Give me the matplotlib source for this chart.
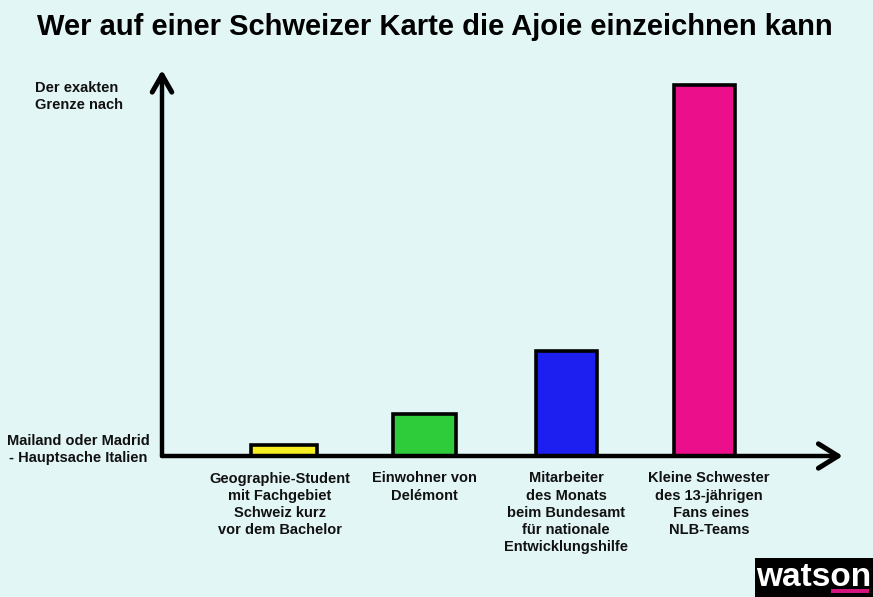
import matplotlib
matplotlib.use('Agg')
import matplotlib.pyplot as plt
from matplotlib.patches import Rectangle

plt.rcParams['font.family'] = 'Liberation Sans'
plt.rcParams['font.weight'] = 'bold'

title = 'Wer auf einer Schweizer Karte die Ajoie einzeichnen kann'
categories = [
    'Geographie-Student\nmit Fachgebiet\nSchweiz kurz\nvor dem Bachelor',
    'Einwohner von\nDelémont',
    'Mitarbeiter\ndes Monats\nbeim Bundesamt\nfür nationale\nEntwicklungshilfe',
    'Kleine Schwester\ndes 13-jährigen\n Fans eines\nNLB-Teams',
]
values = [2.9, 11.0, 27.6, 97.4]
colors = ['#f7ee22', '#2ecc3a', '#1c1ff0', '#ec0f8b']
y_low = 'Mailand oder Madrid\n- Hauptsache Italien'
y_high = 'Der exakten\nGrenze nach'

W, H = 873, 597
bg = '#e3f6f6'

fig = plt.figure(figsize=(W / 100, H / 100), dpi=100, facecolor=bg)
# axes box runs from the origin of the drawn arrows to their tips
ax = fig.add_axes([162 / W, (H - 456) / H, (838 - 162) / W, (456 - 75) / H])
ax.set_facecolor(bg)
ax.set_xlim(-0.87, 3.95)
ax.set_ylim(0, 100)
for s in ax.spines.values():
    s.set_visible(False)
ax.set_yticks([])
ax.set_xticks([])

# the hand drawn bars are not evenly spaced or equally wide
bar_pos = [0, 1, 2.015, 3]
bar_width = [0.465, 0.45, 0.435, 0.435]
ax.bar(bar_pos, values, width=bar_width, color=colors, edgecolor='black', linewidth=2.6, clip_on=False, zorder=2)

# arrows
ax.plot([-0.87, 3.95], [0, 0], color='black', lw=3.2, solid_capstyle='round', clip_on=False, zorder=3)
ax.plot([-0.87, -0.87], [0, 100], color='black', lw=3.2, solid_capstyle='round', clip_on=False, zorder=3)
heads = [
    ((1, 0), (0.971, 0.032)),
    ((1, 0), (0.971, -0.032)),
    ((0, 1), (-0.0145, 0.955)),
    ((0, 1), (0.0145, 0.955)),
]
for tip, back in heads:
    ax.annotate('', xy=tip, xytext=back, xycoords='axes fraction', textcoords='axes fraction',
                arrowprops=dict(arrowstyle='-', color='black', lw=3.6, capstyle='round', shrinkA=0, shrinkB=0))

fig.text(435 / W, 1 - 27 / H, title, ha='center', va='center', fontsize=20.95, color='black')

label_x = [280 / W, 424 / W, 566 / W, 709 / W]
for lx, c in zip(label_x, categories):
    fig.text(lx, 1 - 471.5 / H, c, ha='center', va='top', fontsize=10.5, linespacing=1.29, color='#111111')

fig.text(78.5 / W, 1 - 449.5 / H, y_low, ha='center', va='center', fontsize=10.5, linespacing=1.29, color='#111111')
fig.text(35 / W, 1 - 96.5 / H, y_high, ha='left', va='center', fontsize=10.5, linespacing=1.29, color='#111111')

# logo
fig.patches.append(Rectangle((755 / W, 0), 118 / W, 39 / H, transform=fig.transFigure, facecolor='black', edgecolor='none'))
fig.text(814 / W, 1 - 577 / H, 'watson', ha='center', va='center', fontsize=24, color='white')
fig.patches.append(Rectangle((831 / W, 4 / H), 38 / W, 4.5 / H, transform=fig.transFigure, facecolor='#d6127f', edgecolor='none', zorder=5))

fig.savefig('out.png', dpi=100, facecolor=bg)
